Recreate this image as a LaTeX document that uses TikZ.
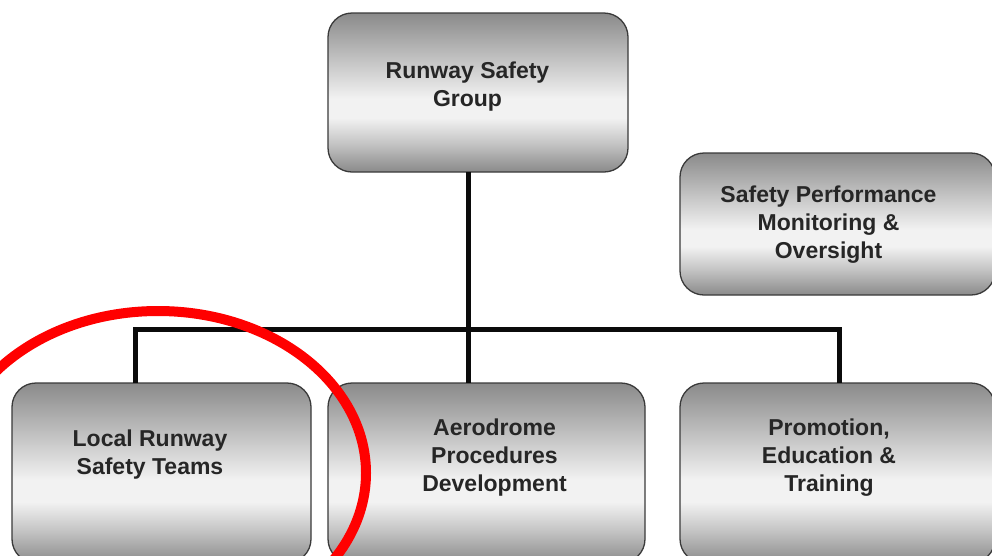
\documentclass[tikz,border=0pt]{standalone}
\usepackage{fontspec}
\setmainfont{Liberation Sans}
\usetikzlibrary{shapes.geometric}
\definecolor{bxdark}{HTML}{8A8A8A}
\definecolor{bxmid}{HTML}{C4C4C4}
\definecolor{bxlight}{HTML}{F2F2F2}
\definecolor{bxedge}{HTML}{3A3A3A}
\definecolor{txt}{HTML}{262626}
\definecolor{wire}{HTML}{0B0B0B}
\definecolor{mark}{HTML}{FF0000}
\pgfdeclareverticalshading{boxshade}{100bp}{color(0bp)=(bxdark); color(25bp)=(bxdark); color(34bp)=(bxmid); color(42bp)=(bxlight); color(48bp)=(bxlight); color(60bp)=(bxmid); color(75bp)=(bxdark); color(100bp)=(bxdark)}
\tikzset{
  box/.style={draw=bxedge, line width=1.3pt, rounded corners=24pt, shading=boxshade, rectangle, inner sep=0pt, outer sep=0pt},
  lbl/.style={font=\bfseries\fontsize{23}{27.8}\selectfont, text=txt, align=center, inner sep=0pt},
  wirestyle/.style={draw=wire, line width=5pt},
  markstyle/.style={draw=mark, line width=10pt, ellipse, inner sep=0pt}
}
\begin{document}
\begin{tikzpicture}[x=1pt,y=-1pt]
\useasboundingbox (0,0) rectangle (992,555);
\clip (0,0) rectangle (992,555);
\fill[white] (0,0) rectangle (992,555);
% boxes
\node[box, minimum width=300pt, minimum height=159pt] (rsg) at (478,92.5) {};
\node[box, minimum width=315pt, minimum height=142pt] (spmo) at (837.5,224) {};
\node[box, minimum width=299pt, minimum height=180pt] (lrst) at (161.5,473) {};
\node[box, minimum width=317pt, minimum height=180pt] (apd) at (486.5,473) {};
\node[box, minimum width=315pt, minimum height=180pt] (pet) at (837.5,473) {};
% labels
\node[lbl] (rsgt) at (467.5,86.5) {Runway Safety\\Group};
\node[lbl] (spmot) at (828.5,224.5) {Safety Performance\\Monitoring \&\\Oversight};
\node[lbl] (lrstt) at (150,454.5) {Local Runway\\Safety Teams};
\node[lbl] (apdt) at (494.5,457.5) {Aerodrome\\Procedures\\Development};
\node[lbl] (pett) at (829,457.5) {Promotion,\\Education \&\\Training};
% connectors
\coordinate (jM) at (468,329);
\coordinate (jL) at (135,329);
\coordinate (jR) at (839,329);
\draw[wirestyle] (jM |- rsg.south) -- (jM |- apd.north);
\draw[wirestyle] (jL |- lrst.north) -- (jL) -- (jR) -- (jR |- pet.north);
% red mark
\node[markstyle, minimum width=416pt, minimum height=324pt] (ring) at (158,473) {};
\end{tikzpicture}
\end{document}
